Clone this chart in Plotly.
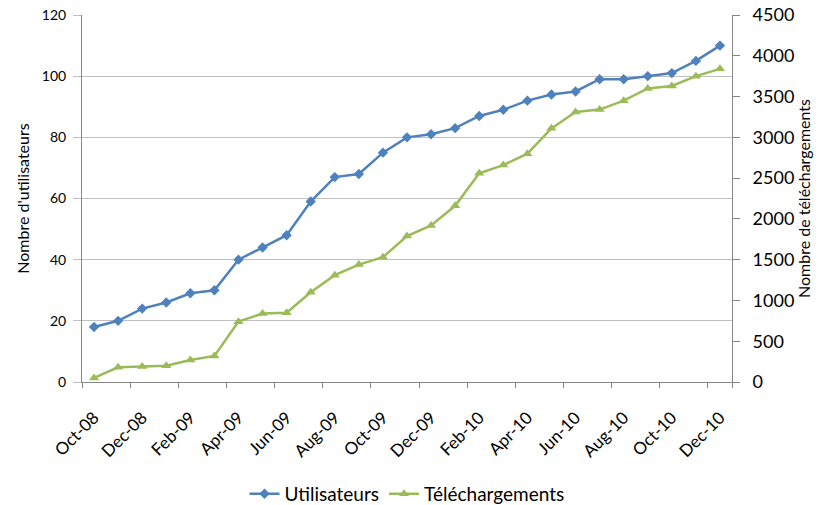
import plotly.graph_objects as go

# Données mensuelles
mois = ["Oct-08", "Nov-08", "Dec-08", "Jan-09", "Feb-09", "Mar-09", "Apr-09",
        "May-09", "Jun-09", "Jul-09", "Aug-09", "Sep-09", "Oct-09", "Nov-09",
        "Dec-09", "Jan-10", "Feb-10", "Mar-10", "Apr-10", "May-10", "Jun-10",
        "Jul-10", "Aug-10", "Sep-10", "Oct-10", "Nov-10", "Dec-10"]

utilisateurs = [18, 20, 24, 26, 29, 30, 40, 44, 48, 59, 67, 68, 75, 80,
                81, 83, 87, 89, 92, 94, 95, 99, 99, 100, 101, 105, 110]

telechargements = [50, 180, 190, 200, 270, 320, 740, 840, 850, 1100, 1310,
                   1440, 1530, 1790, 1920, 2160, 2560, 2660, 2800, 3110, 3310,
                   3340, 3450, 3600, 3630, 3750, 3840]

BLEU = "#4F81BD"
VERT = "#9BBB59"
GRIS = "#868686"
POLICE = "Lato"

fig = go.Figure()

# Courbe des utilisateurs (axe gauche)
fig.add_trace(go.Scatter(x=mois, y=utilisateurs, mode="lines+markers",
                         name="Utilisateurs",
                         line=dict(color=BLEU, width=2.5),
                         marker=dict(symbol="diamond", size=8, color=BLEU)))

# Courbe des téléchargements (axe droit)
fig.add_trace(go.Scatter(x=mois, y=telechargements, mode="lines+markers",
                         name="Téléchargements", yaxis="y2",
                         line=dict(color=VERT, width=2.5),
                         marker=dict(symbol="triangle-up", size=9, color=VERT)))

fig.update_layout(
    width=828, height=505,
    margin=dict(l=82, r=96, t=15, b=123, autoexpand=False),
    paper_bgcolor="white", plot_bgcolor="white",
    font=dict(family=POLICE, color="black"),
    showlegend=True,
    legend=dict(orientation="h", x=0.5, xanchor="center", y=-0.305,
                yanchor="middle", font=dict(size=19), itemwidth=30),
    xaxis=dict(type="category", range=[-0.5, len(mois) - 0.5],
               tickvals=mois[::2], ticktext=mois[::2], tickson="boundaries",
               ticks="outside", ticklen=5, tickcolor=GRIS, tickangle=-45,
               tickfont=dict(size=17), showgrid=False, automargin=False,
               showline=True, linecolor=GRIS, linewidth=1,
               ticklabelstandoff=18),
    yaxis=dict(title=dict(text="Nombre d'utilisateurs", font=dict(size=16),
                          standoff=8),
               range=[0, 120], dtick=20, showgrid=True, gridcolor="#BFBFBF",
               gridwidth=1, zeroline=False, ticks="outside", ticklen=8,
               tickcolor="#BFBFBF", tickfont=dict(size=14), automargin=True,
               showline=True, linecolor=GRIS, linewidth=1,
               ticklabelstandoff=4, ticklabeloverflow="allow"),
    yaxis2=dict(title=dict(text="Nombre de téléchargements", font=dict(size=16),
                           standoff=3),
                overlaying="y", side="right", range=[0, 4500], dtick=500,
                showgrid=False, zeroline=False, ticks="outside", ticklen=7,
                tickcolor=GRIS, tickfont=dict(size=18), automargin=True,
                showline=True, linecolor=GRIS, linewidth=1,
                ticklabelstandoff=9, ticklabeloverflow="allow"),
)

# pas de marge autour de la figure dans la page, pas de barre d'outils
fig.write_html("out.html", config={"displayModeBar": False},
               post_script="document.body.style.margin = '0';")
